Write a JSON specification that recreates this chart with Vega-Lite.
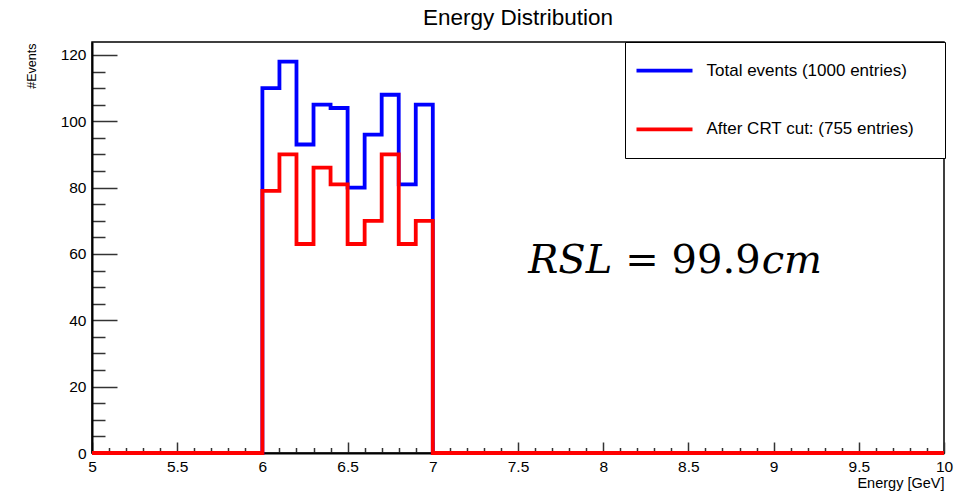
{
  "$schema": "https://vega.github.io/schema/vega-lite/v6.json",
  "width": 852,
  "height": 411,
  "autosize": {"type": "none"},
  "padding": {"left": 92, "top": 42, "right": 29, "bottom": 40},
  "background": "white",
  "title": {"text": "Energy Distribution", "fontSize": 22.5, "font": "Liberation Sans", "fontWeight": "normal", "color": "black", "anchor": "middle", "frame": "group", "baseline": "alphabetic", "offset": 15, "dy": 21},
  "config": {
    "view": {"stroke": "black", "strokeWidth": 1.5},
    "axis": {"grid": false, "tickColor": "#333", "tickWidth": 1.5, "labelFont": "Liberation Sans", "labelColor": "black", "titleFont": "Liberation Sans", "titleColor": "black", "titleFontWeight": "normal", "domainColor": "black", "domainWidth": 2},
    "text": {"color": "black"}
  },
  "datasets": {
    "hist": [
      {"E": 5.0, "n": 0, "s": "Total events (1000 entries)"},
      {"E": 6.0, "n": 110, "s": "Total events (1000 entries)"},
      {"E": 6.1, "n": 118, "s": "Total events (1000 entries)"},
      {"E": 6.2, "n": 93, "s": "Total events (1000 entries)"},
      {"E": 6.3, "n": 105, "s": "Total events (1000 entries)"},
      {"E": 6.4, "n": 104, "s": "Total events (1000 entries)"},
      {"E": 6.5, "n": 80, "s": "Total events (1000 entries)"},
      {"E": 6.6, "n": 96, "s": "Total events (1000 entries)"},
      {"E": 6.7, "n": 108, "s": "Total events (1000 entries)"},
      {"E": 6.8, "n": 81, "s": "Total events (1000 entries)"},
      {"E": 6.9, "n": 105, "s": "Total events (1000 entries)"},
      {"E": 7.0, "n": 0, "s": "Total events (1000 entries)"},
      {"E": 10.0, "n": 0, "s": "Total events (1000 entries)"},
      {"E": 5.0, "n": 0, "s": "After CRT cut: (755 entries)"},
      {"E": 6.0, "n": 79, "s": "After CRT cut: (755 entries)"},
      {"E": 6.1, "n": 90, "s": "After CRT cut: (755 entries)"},
      {"E": 6.2, "n": 63, "s": "After CRT cut: (755 entries)"},
      {"E": 6.3, "n": 86, "s": "After CRT cut: (755 entries)"},
      {"E": 6.4, "n": 81, "s": "After CRT cut: (755 entries)"},
      {"E": 6.5, "n": 63, "s": "After CRT cut: (755 entries)"},
      {"E": 6.6, "n": 70, "s": "After CRT cut: (755 entries)"},
      {"E": 6.7, "n": 90, "s": "After CRT cut: (755 entries)"},
      {"E": 6.8, "n": 63, "s": "After CRT cut: (755 entries)"},
      {"E": 6.9, "n": 70, "s": "After CRT cut: (755 entries)"},
      {"E": 7.0, "n": 0, "s": "After CRT cut: (755 entries)"},
      {"E": 10.0, "n": 0, "s": "After CRT cut: (755 entries)"}
    ],
    "note": [
      {"part": "RSL", "E": 7.56, "n": 54.2, "italic": true},
      {"part": "= 99.9", "E": 8.13, "n": 54.2, "italic": false},
      {"part": "cm", "E": 8.93, "n": 54.2, "italic": true}
    ]
  },
  "layer": [
    {
      "data": {"name": "hist"},
      "transform": [{"filter": "datum.s === 'Total events (1000 entries)'"}],
      "mark": {"type": "line", "interpolate": "step-after", "strokeWidth": 3.8, "strokeJoin": "miter"},
      "encoding": {
        "x": {"field": "E", "type": "quantitative", "scale": {"domain": [5, 10], "nice": false, "zero": false},
          "axis": {"orient": "bottom", "values": [5.1,5.2,5.3,5.4,5.6,5.7,5.8,5.9,6.1,6.2,6.3,6.4,6.6,6.7,6.8,6.9,7.1,7.2,7.3,7.4,7.6,7.7,7.8,7.9,8.1,8.2,8.3,8.4,8.6,8.7,8.8,8.9,9.1,9.2,9.3,9.4,9.6,9.7,9.8,9.9], "tickSize": -5.5, "labels": false, "domain": false, "title": null}},
        "y": {"field": "n", "type": "quantitative", "scale": {"domain": [0, 123.9], "nice": false},
          "axis": {"orient": "left", "values": [5,10,15,25,30,35,45,50,55,65,70,75,85,90,95,105,110,115], "tickSize": -13, "labels": false, "domain": false, "title": null}},
        "color": {"field": "s", "type": "nominal",
          "scale": {"domain": ["Total events (1000 entries)", "After CRT cut: (755 entries)"], "range": ["#0000ff", "#ff0000"]},
          "legend": {"orient": "none", "legendX": 533, "legendY": 0, "title": "\u00a0", "titleOrient": "right", "titleFontSize": 1, "titlePadding": 30,
            "symbolType": "stroke", "symbolSize": 3136, "symbolStrokeWidth": 3.8, "symbolOffset": 8.5, "labelOffset": 12,
            "labelFontSize": 17, "labelFont": "Liberation Sans", "labelColor": "black", "labelLimit": 400,
            "clipHeight": 55.4, "padding": 1, "rowPadding": 2.6, "strokeColor": "black", "fillColor": "white"}}
      }
    },
    {
      "data": {"name": "hist"},
      "transform": [{"filter": "datum.s === 'After CRT cut: (755 entries)'"}],
      "mark": {"type": "line", "interpolate": "step-after", "strokeWidth": 3.8, "strokeJoin": "miter"},
      "encoding": {
        "x": {"field": "E", "type": "quantitative", "scale": {"domain": [5, 10], "nice": false, "zero": false},
          "axis": {"orient": "bottom", "values": [5,5.5,6,6.5,7,7.5,8,8.5,9,9.5,10], "format": "~g", "tickSize": -11, "labelPadding": 17, "labelFontSize": 15.5, "labelFlush": false, "labelOverlap": false,
            "title": "Energy [GeV]", "titleFontSize": 14.5, "titleAnchor": "end", "titleAlign": "right", "titleBaseline": "alphabetic", "titleX": 852, "titleY": 34}},
        "y": {"field": "n", "type": "quantitative", "scale": {"domain": [0, 123.9], "nice": false},
          "axis": {"orient": "left", "values": [0,20,40,60,80,100,120], "format": "d", "tickSize": -25, "labelPadding": 31, "labelFontSize": 15.5, "labelOverlap": false,
            "title": "#Events", "titleFontSize": 12.5, "titleAngle": -90, "titleAlign": "right", "titleBaseline": "middle", "titleX": -61, "titleY": 1}},
        "color": {"field": "s", "type": "nominal",
          "scale": {"domain": ["Total events (1000 entries)", "After CRT cut: (755 entries)"], "range": ["#0000ff", "#ff0000"]}}
      }
    },
    {
      "data": {"name": "note"},
      "transform": [{"filter": "datum.italic"}],
      "mark": {"type": "text", "font": "DejaVu Serif", "fontStyle": "italic", "fontSize": 40, "align": "left", "baseline": "alphabetic"},
      "encoding": {
        "text": {"field": "part"},
        "x": {"field": "E", "type": "quantitative", "scale": {"domain": [5, 10], "nice": false, "zero": false}, "axis": null},
        "y": {"field": "n", "type": "quantitative", "scale": {"domain": [0, 123.9], "nice": false}, "axis": null}
      }
    },
    {
      "data": {"name": "note"},
      "transform": [{"filter": "!datum.italic"}],
      "mark": {"type": "text", "font": "DejaVu Serif", "fontSize": 40, "align": "left", "baseline": "alphabetic"},
      "encoding": {
        "text": {"field": "part"},
        "x": {"field": "E", "type": "quantitative", "scale": {"domain": [5, 10], "nice": false, "zero": false}, "axis": null},
        "y": {"field": "n", "type": "quantitative", "scale": {"domain": [0, 123.9], "nice": false}, "axis": null}
      }
    }
  ],
  "resolve": {"axis": {"x": "independent", "y": "independent"}}
}
